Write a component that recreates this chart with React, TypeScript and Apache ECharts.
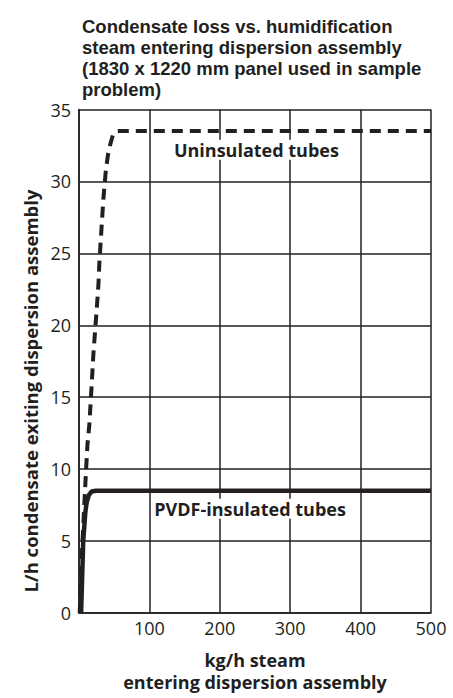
import React, { useEffect, useRef } from "react";
import * as echarts from "echarts";

const titleLines = [
  "Condensate loss vs. humidification",
  "steam entering dispersion assembly",
  "(1830 x 1220 mm panel used in sample",
  "problem)",
];
const xAxisName = ["kg/h steam", "entering dispersion assembly"];
const yAxisName = "L/h condensate exiting dispersion assembly";

// Uninsulated tubes (dashed)
const uninsulatedX = [1, 4, 7, 10, 12, 14.7, 16.6, 18.5, 20.3, 22.7, 25, 27.5, 29, 31, 34.6, 38, 41, 44, 48, 54, 500];
const uninsulatedY = [0, 4, 7, 9.9, 11.7, 13.1, 14.7, 16.3, 17.9, 19.5, 21, 22.75, 24.4, 26, 28.75, 30.7, 31.8, 32.5, 33.2, 33.5, 33.5];

// PVDF-insulated tubes (solid)
const pvdfX = [3, 6, 9, 11, 14, 18, 24, 500];
const pvdfY = [0, 5, 7, 7.7, 8.2, 8.45, 8.5, 8.5];

const uninsulatedLabel = { text: "Uninsulated tubes", x: 252, y: 32.2 };
const pvdfLabel = { text: "PVDF-insulated tubes", x: 243, y: 7.25 };

const FONT = "Open Sans";
const TITLE_FONT = "Liberation Sans";
const INK = "#231f20";

export default function App() {
  const ref = useRef<HTMLDivElement>(null);
  useEffect(() => {
    if (!ref.current) return;
    const chart = echarts.init(ref.current, undefined, { renderer: "svg" });
    const pair = (xs: number[], ys: number[]) => xs.map((x, i) => [x, ys[i]]);
    const labelPoint = (l: { text: string; x: number; y: number }) => ({
      symbol: "circle",
      symbolSize: 1,
      silent: true,
      itemStyle: { color: "rgba(0,0,0,0)" },
      label: {
        show: true,
        position: "inside",
        formatter: l.text,
        color: INK,
        fontFamily: FONT,
        fontWeight: "bold",
        fontSize: 18,
        backgroundColor: "#ffffff",
        padding: [1, 3],
      },
      data: [{ coord: [l.x, l.y], name: l.text }],
    });
    chart.setOption({
      animation: false,
      backgroundColor: "#ffffff",
      textStyle: { fontFamily: FONT, color: INK },
      title: {
        text: titleLines.join("\n"),
        left: 77,
        top: 11,
        textStyle: {
          fontFamily: TITLE_FONT,
          fontWeight: "bold",
          fontSize: 18.5,
          lineHeight: 21,
          color: INK,
        },
      },
      graphic: [
        {
          type: "text",
          x: 30,
          y: 391,
          rotation: Math.PI / 2,
          style: {
            text: yAxisName,
            fontFamily: FONT,
            fontWeight: "bold",
            fontSize: 18.5,
            fill: INK,
            align: "center",
            verticalAlign: "middle",
          },
        },
      ],
      grid: { left: 79, right: 22, top: 109.5, bottom: 82, containLabel: false },
      xAxis: {
        type: "value",
        min: 0,
        max: 500,
        interval: 100,
        name: xAxisName.join("\n"),
        nameLocation: "middle",
        nameGap: 36,
        nameTextStyle: {
          fontFamily: FONT,
          fontWeight: "bold",
          fontSize: 18,
          lineHeight: 22,
          color: INK,
          verticalAlign: "top",
        },
        axisLine: { show: true, lineStyle: { color: INK, width: 1.5 } },
        axisTick: { show: false },
        axisLabel: {
          fontFamily: FONT,
          fontSize: 18,
          color: INK,
          margin: 6,
          formatter: (v: number) => (v === 0 ? "" : String(v)),
        },
        splitLine: { show: true, lineStyle: { color: INK, width: 1.5 } },
      },
      yAxis: {
        type: "value",
        min: 0,
        max: 35,
        interval: 5,
        axisLine: { show: true, lineStyle: { color: INK, width: 1.5 } },
        axisTick: { show: false },
        axisLabel: { fontFamily: FONT, fontSize: 18, color: INK, margin: 8 },
        splitLine: { show: true, lineStyle: { color: INK, width: 1.5 } },
      },
      series: [
        {
          type: "line",
          name: "Uninsulated tubes",
          data: pair(uninsulatedX, uninsulatedY),
          showSymbol: false,
          symbol: "none",
          lineStyle: { color: INK, width: 4, type: [11, 7] },
          markPoint: labelPoint(uninsulatedLabel),
          z: 3,
        },
        {
          type: "line",
          name: "PVDF-insulated tubes",
          data: pair(pvdfX, pvdfY),
          showSymbol: false,
          symbol: "none",
          lineStyle: { color: INK, width: 4.5 },
          markPoint: labelPoint(pvdfLabel),
          z: 3,
        },
      ],
    });
    return () => chart.dispose();
  }, []);
  return (
    <div
      ref={ref}
      style={{ position: "absolute", left: 0, top: 0, width: 453, height: 698 }}
    />
  );
}
